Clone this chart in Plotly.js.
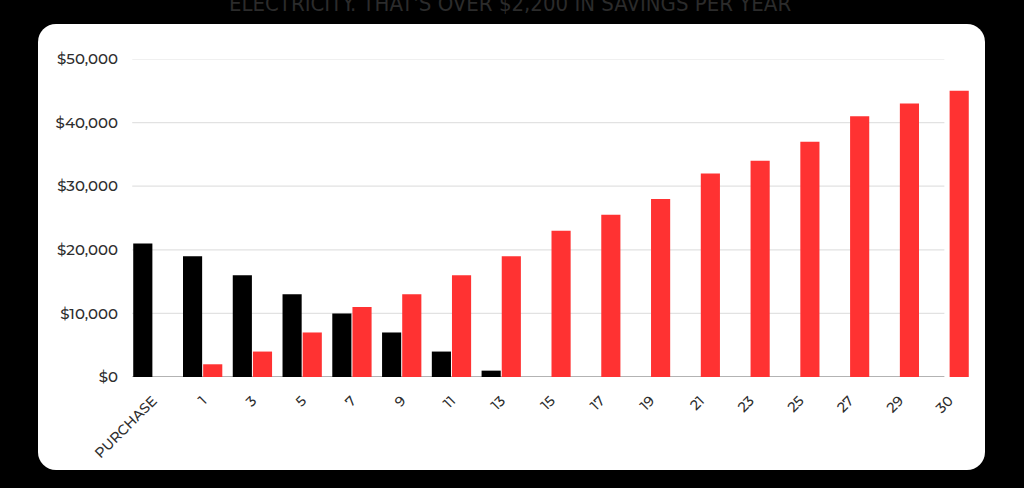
<!DOCTYPE html>
<html>
<head>
<meta charset="utf-8">
<script src="https://cdn.plot.ly/plotly-3.0.1.min.js"></script>
<style>
  html, body { margin: 0; padding: 0; background: #000; width: 1024px; height: 488px; overflow: hidden; }
  #panel { position: absolute; left: 38px; top: 24px; width: 947px; height: 446px; background: #fff; border-radius: 18px; }
  #chart { position: absolute; left: 0; top: 0; width: 1024px; height: 488px; }
</style>
</head>
<body>
<div id="panel"></div>
<div id="chart"></div>
<script>
const categories = ["PURCHASE", "1", "3", "5", "7", "9", "11", "13", "15", "17", "19", "21", "23", "25", "27", "29", "30"];
const blackValues = [21000, 19000, 16000, 13000, 10000, 7000, 4000, 1000, 0, 0, 0, 0, 0, 0, 0, 0, 0];
const redValues = [0, 2000, 4000, 7000, 11000, 13000, 16000, 19000, 23000, 25500, 28000, 32000, 34000, 37000, 41000, 43000, 45000];
const yTickValues = [0, 10000, 20000, 30000, 40000, 50000];
const yTickLabels = ["$0", "$10,000", "$20,000", "$30,000", "$40,000", "$50,000"];
const titleText = "ELECTRICITY. THAT'S OVER $2,200 IN SAVINGS PER YEAR";

const FONT = "Montserrat, 'Open Sans', 'Noto Sans', sans-serif";

const traces = [
  { type: "bar", x: categories, y: blackValues, marker: { color: "#000000" }, hoverinfo: "skip" },
  { type: "bar", x: categories, y: redValues, marker: { color: "#ff3232" }, hoverinfo: "skip" }
];

const shapes = yTickValues.map(v => ({
  type: "line", xref: "paper", yref: "y",
  x0: 0.005, x1: 0.965, y0: v, y1: v,
  line: { color: v === 0 ? "#9a9a9a" : "#e2e2e2", width: v === 0 ? 1.5 : 1.2 },
  layer: "below"
}));

const layout = {
  width: 1024, height: 488,
  paper_bgcolor: "rgba(0,0,0,0)",
  plot_bgcolor: "rgba(0,0,0,0)",
  margin: { l: 128, r: 50, t: 59, b: 111, pad: 0 },
  showlegend: false,
  barmode: "group",
  bargap: 0.19,
  bargroupgap: 0.05,
  font: { family: FONT, color: "#333333" },
  xaxis: {
    type: "category",
    showgrid: false, zeroline: false, showline: false,
    ticks: "outside", ticklen: 9, tickcolor: "rgba(0,0,0,0)", tickangle: -45,
    tickfont: { family: FONT, size: 14, weight: 500, color: "#2e2e2e" },
    fixedrange: true
  },
  yaxis: {
    range: [0, 50000],
    showgrid: false, zeroline: false, showline: false,
    tickmode: "array", tickvals: yTickValues, ticktext: yTickLabels,
    ticks: "outside", ticklen: 6, tickcolor: "rgba(0,0,0,0)",
    tickfont: { family: FONT, size: 15, weight: 500, color: "#2e2e2e" },
    fixedrange: true
  },
  shapes: shapes,
  annotations: [{
    text: titleText, xref: "paper", yref: "paper",
    x: 0.452, y: 1.175, xanchor: "center", yanchor: "middle",
    showarrow: false,
    font: { family: "'DejaVu Sans Condensed', 'Liberation Sans Narrow', sans-serif", size: 22, color: "#2b2b2b" }
  }]
};

Plotly.newPlot("chart", traces, layout, { displayModeBar: false, staticPlot: true });
</script>
</body>
</html>
